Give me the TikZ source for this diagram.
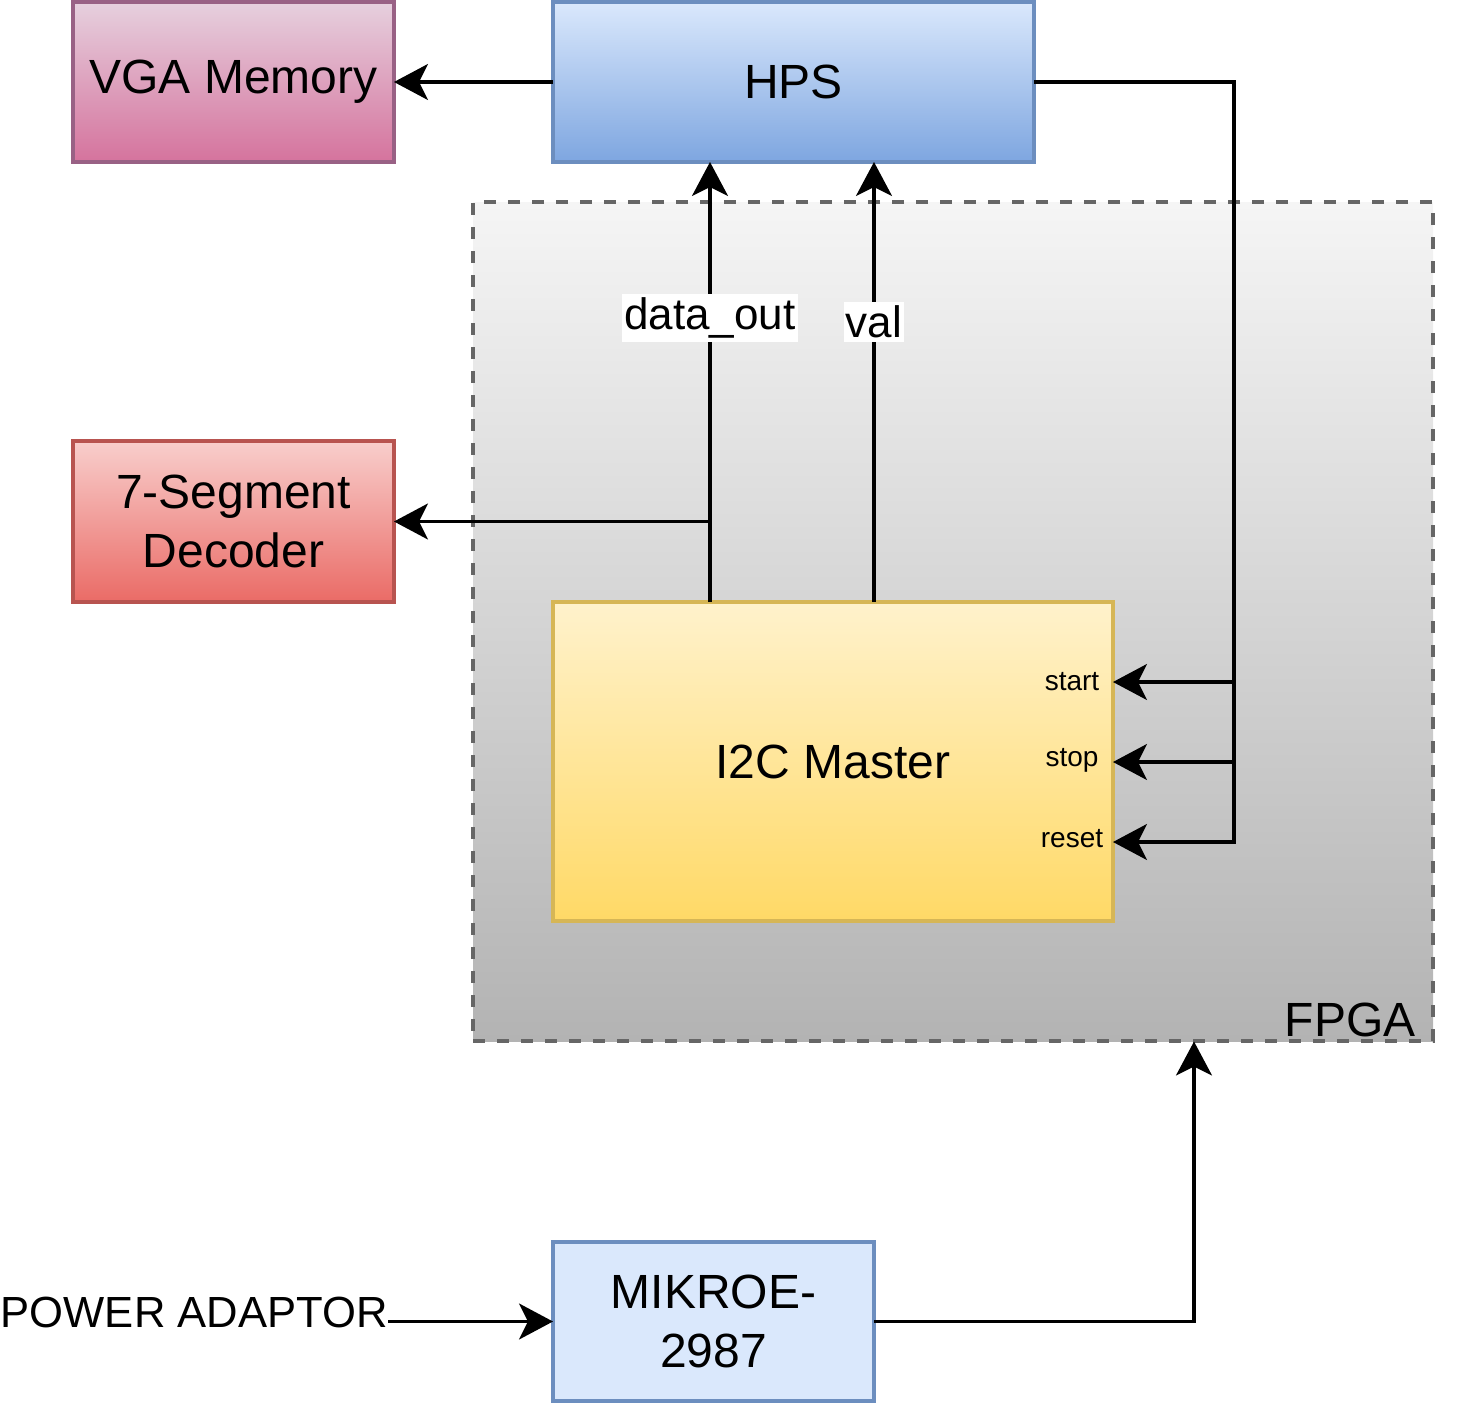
\documentclass[tikz,border=0pt]{standalone}
\usepackage{fontspec}
\setmainfont{Liberation Sans}
\usetikzlibrary{arrows.meta,calc}
\definecolor{vgaT}{HTML}{E6D0DE}\definecolor{vgaB}{HTML}{D5739D}\definecolor{vgaS}{HTML}{996185}
\definecolor{hpsT}{HTML}{DAE8FC}\definecolor{hpsB}{HTML}{7EA6E0}\definecolor{hpsS}{HTML}{6C8EBF}
\definecolor{fpT}{HTML}{F5F5F5}\definecolor{fpB}{HTML}{B3B3B3}\definecolor{fpS}{HTML}{666666}
\definecolor{sgT}{HTML}{F8CECC}\definecolor{sgB}{HTML}{EA6B66}\definecolor{sgS}{HTML}{B85450}
\definecolor{icT}{HTML}{FFF2CC}\definecolor{icB}{HTML}{FFD966}\definecolor{icS}{HTML}{D6B656}
\begin{document}
\begin{tikzpicture}[x=0.5pt,y=-0.5pt,
  blk/.style={draw, line width=1.6pt, inner sep=0pt, outer sep=0pt, align=center,
    font=\fontsize{24}{29.5}\selectfont},
  arr/.style={line width=1.6pt, -{Stealth[length=17pt,width=18pt,inset=4.5pt]}},
  lbl/.style={fill=white, inner xsep=1pt, inner ysep=2pt, font=\fontsize{22}{26}\selectfont},
  pin/.style={inner sep=0pt, font=\fontsize{14}{16}\selectfont}]
\useasboundingbox (0,0) rectangle (1480,1408);
% FPGA region
\node[draw=fpS, line width=1.6pt, dash pattern=on 6pt off 6pt, top color=fpT, bottom color=fpB,
  minimum width=480pt, minimum height=419.5pt, inner sep=0pt, outer sep=0pt] (fpga) at (953,621.5) {};
\node[anchor=base east, inner sep=0pt, font=\fontsize{24}{29}\selectfont] (fpgalbl) at (1416,1036) {FPGA};
% blocks
\node[blk, draw=vgaS, top color=vgaT, bottom color=vgaB, minimum width=160.5pt, minimum height=80pt] (vga) at (233.5,82) {VGA Memory};
\node[blk, draw=hpsS, top color=hpsT, bottom color=hpsB, minimum width=240.5pt, minimum height=80pt] (hps) at (793.5,82) {HPS};
\node[blk, draw=sgS, top color=sgT, bottom color=sgB, minimum width=160.5pt, minimum height=80.5pt] (seg) at (233.5,521.5) {7-Segment\\Decoder};
\node[blk, draw=icS, top color=icT, bottom color=icB, minimum width=280pt, minimum height=159.5pt] (i2c) at (833,761.5) {I2C Master};
\node[blk, draw=hpsS, fill=hpsT, minimum width=160.5pt, minimum height=79.5pt] (mik) at (713.5,1321.5) {MIKROE-\\2987};
\node[anchor=east, inner sep=0pt, font=\fontsize{21.8}{25}\selectfont] (pa) at (388,1312) {POWER ADAPTOR};
% pin labels
\node[pin] (lstart) at (1072,682) {start};
\node[pin] (lstop) at (1072,760) {stop};
\node[pin] (lreset) at (1072,839) {reset};
% helper coordinates
\coordinate (dcol) at (710,400);
\coordinate (vcol) at (874,400);
\coordinate (bus) at (1234,842);
\coordinate (fin) at (1194,1041.5);
% connectors
\draw[arr] (hps.west) -- (vga.east);
\draw[arr] (i2c.north -| dcol) -- (hps.south -| dcol);
\draw[arr] (i2c.north -| vcol) -- (hps.south -| vcol);
\draw[arr] (dcol |- seg.east) -- (seg.east);
\draw[arr] (hps.east) -| (bus) -- (i2c.east |- bus);
\draw[arr] (bus |- 0,682) -- (i2c.east |- 0,682);
\draw[arr] (bus |- 0,762) -- (i2c.east |- 0,762);
\draw[arr] (mik.east) -| (fin);
\draw[arr] (pa.east |- mik.west) -- (mik.west);
% line labels
\node[lbl] (ldata) at (710,318) {data\_out};
\node[lbl] (lval) at (874,322) {val};
\end{tikzpicture}
\end{document}
